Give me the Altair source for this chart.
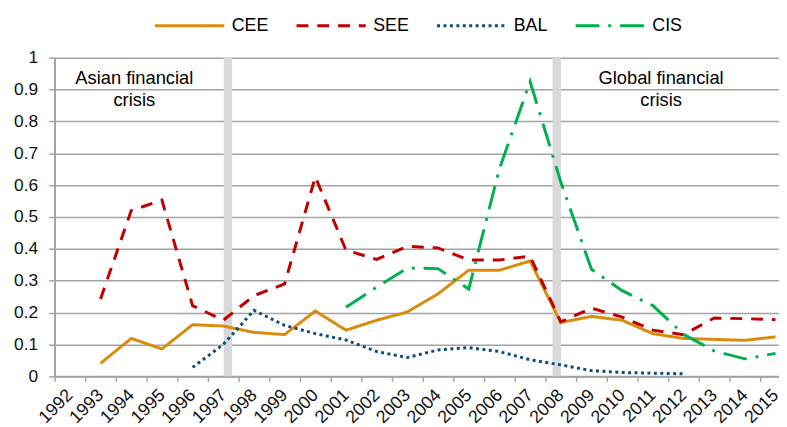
import altair as alt
import pandas as pd

# ---- data ----
series = ["CEE", "SEE", "BAL", "CIS"]
colors = ["#DA8B0C", "#C00000", "#0E4C7A", "#00B050"]
dashes = [[1, 0], [12, 9], [3, 3.5], [24, 9, 3, 9]]

years_cee = list(range(1993, 2016))
cee = [0.041, 0.119, 0.086, 0.162, 0.158, 0.138, 0.131, 0.205, 0.145, 0.176,
       0.202, 0.259, 0.333, 0.333, 0.362, 0.169, 0.188, 0.176, 0.134, 0.119,
       0.116, 0.113, 0.124]

years_see = list(range(1993, 2016))
see = [0.243, 0.520, 0.553, 0.222, 0.176, 0.253, 0.290, 0.626, 0.396, 0.367,
       0.408, 0.403, 0.365, 0.365, 0.377, 0.171, 0.214, 0.186, 0.145, 0.131,
       0.183, 0.181, 0.178]

years_bal = list(range(1996, 2013))
bal = [0.028, 0.100, 0.207, 0.160, 0.134, 0.114, 0.078, 0.059, 0.083, 0.090,
       0.078, 0.052, 0.036, 0.018, 0.012, 0.010, 0.008]

years_cis = list(range(2001, 2016))
cis = [0.217, 0.280, 0.340, 0.338, 0.274, 0.651, 0.925, 0.610, 0.336, 0.269,
       0.222, 0.132, 0.080, 0.055, 0.072]

tick_years = list(range(1992, 2016))
y_ticks = [0, 0.1, 0.2, 0.3, 0.4, 0.5, 0.6, 0.7, 0.8, 0.9, 1]

crisis_years = [1997.15, 2007.87]
notes = ["Asian financial\ncrisis", "Global financial\ncrisis"]
note_years = [1994.1, 2011.27]
note_values = [0.916, 0.916]

# ---- tables ----
rows = []
for name, yrs, vals in [("CEE", years_cee, cee), ("SEE", years_see, see),
                        ("BAL", years_bal, bal), ("CIS", years_cis, cis)]:
    for yr, v in zip(yrs, vals):
        rows.append({"series": name, "year": yr, "value": v})
df = pd.DataFrame(rows)

crisis_df = pd.DataFrame({"year": crisis_years,
                          "value": [0] * len(crisis_years),
                          "value2": [1] * len(crisis_years)})
notes_df = pd.DataFrame({"year": note_years, "value": note_values, "label": notes})

PLOT_W = 732
PLOT_H = 322
CAT = 31.0
x_max = 1991.5 + PLOT_W / CAT

FONT = "Liberation Sans"
GRID = "#A3A3A3"

X = alt.X("year:Q",
          scale=alt.Scale(domain=[1991.5, x_max], nice=False, zero=False),
          axis=alt.Axis(values=tick_years, title=None, grid=False,
                        tickOffset=-CAT / 2, labelOffset=CAT / 2,
                        labelAngle=315, labelAlign="right", labelBaseline="middle",
                        labelPadding=11, labelFontSize=18, labelFont=FONT,
                        labelColor="#111111", labelOverlap=False, labelFlush=False,
                        labelBound=False, format="d",
                        domainColor=GRID, domainWidth=2,
                        tickColor=GRID, tickWidth=1.5, tickSize=5))

Y = alt.Y("value:Q",
          scale=alt.Scale(domain=[0, 1], nice=False, zero=True),
          axis=alt.Axis(values=y_ticks, title=None, format="~g", grid=True,
                        gridColor=GRID, gridWidth=1.5,
                        domainColor=GRID, domainWidth=2,
                        tickColor=GRID, tickWidth=1.5, tickSize=6,
                        labelPadding=11, labelFontSize=17.5, labelFont=FONT,
                        labelColor="#111111"))

legend = alt.Legend(orient="none", legendX=100, legendY=-69, direction="horizontal",
                    title=None, symbolType="stroke", symbolSize=4900,
                    symbolStrokeWidth=3, labelFontSize=18, labelFont=FONT,
                    labelColor="#000000", columnPadding=21, labelOffset=6,
                    padding=0)

color = alt.Color("series:N", scale=alt.Scale(domain=series, range=colors), legend=legend)
dash = alt.StrokeDash("series:N", scale=alt.Scale(domain=series, range=dashes), legend=legend)

rules = alt.Chart(crisis_df).mark_rule(color="#D9D9D9", strokeWidth=8.5).encode(
    x=X, y=Y, y2="value2:Q")

line_layers = []
for s in series:
    line_layers.append(
        alt.Chart(df).transform_filter(alt.datum.series == s)
        .mark_line(strokeWidth=3, clip=False)
        .encode(x=X, y=Y, color=color, strokeDash=dash, order="year:Q")
    )

texts = alt.Chart(notes_df).mark_text(
    font=FONT, fontSize=18.5, align="center", baseline="alphabetic",
    lineBreak="\n", lineHeight=22, color="#000000").encode(
    x=X, y=Y, text="label:N")

chart = alt.layer(rules, *line_layers, texts).properties(
    width=PLOT_W, height=PLOT_H,
    padding={"left": 47, "top": 48, "right": 0, "bottom": 49},
    autosize=alt.AutoSizeParams(type="none"),
).configure_view(stroke="transparent")

chart.save("out.html", embed_options={"renderer": "svg", "actions": False})
